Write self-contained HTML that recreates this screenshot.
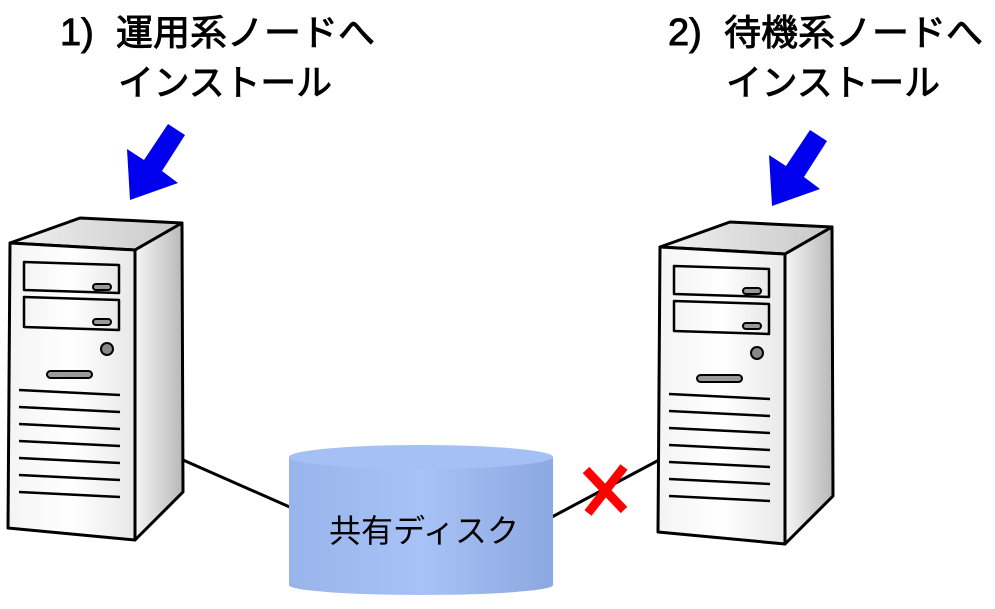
<!DOCTYPE html>
<html><head><meta charset="utf-8"><style>
body{margin:0;background:#fff;}
svg{display:block;}
text{font-family:"Liberation Sans","Noto Sans CJK JP",sans-serif;fill:#000;}
.t{stroke:#000;stroke-width:0.9;}
</style></head><body>
<svg width="995" height="609" viewBox="0 0 995 609" xmlns="http://www.w3.org/2000/svg">
<defs>
<linearGradient id="fr" x1="0" x2="1"><stop offset="0" stop-color="#f4f4f4"/><stop offset="0.5" stop-color="#ffffff"/><stop offset="1" stop-color="#e8e8e8"/></linearGradient>
<linearGradient id="sd" x1="0" x2="1"><stop offset="0" stop-color="#f6f6f6"/><stop offset="1" stop-color="#b8b8b8"/></linearGradient>
<linearGradient id="tp" x1="0" x2="1"><stop offset="0" stop-color="#f0f0f0"/><stop offset="1" stop-color="#c8c8c8"/></linearGradient>
<linearGradient id="cy" x1="0" x2="1"><stop offset="0" stop-color="#98b4ea"/><stop offset="0.5" stop-color="#a6c2f6"/><stop offset="1" stop-color="#8ca8e0"/></linearGradient>
<g id="srv" stroke="#000" stroke-width="3" stroke-linejoin="round">
<polygon points="10,243 80,218 182,223 135,250" fill="url(#tp)"/>
<polygon points="135,250 182,223 183,492 135,540" fill="url(#sd)"/>
<polygon points="10,243 135,250 135,540 8,528" fill="url(#fr)"/>
<polygon points="24,262 119,265 119,293 24,290" fill="url(#fr)" stroke-width="2.5"/>
<polygon points="24,297 119,300 119,330 24,327" fill="url(#fr)" stroke-width="2.5"/>
<rect x="93" y="284" width="18" height="6" rx="3" fill="#999" stroke-width="2"/>
<rect x="93" y="319" width="18" height="6" rx="3" fill="#999" stroke-width="2"/>
<circle cx="107" cy="349" r="6" fill="#888" stroke-width="2"/>
<rect x="47" y="371" width="45" height="7" rx="3.5" fill="#999" stroke-width="2"/>
<g stroke-width="2.5">
<line x1="19" y1="390" x2="120" y2="395"/>
<line x1="19" y1="407" x2="120" y2="412"/>
<line x1="19" y1="424" x2="120" y2="429"/>
<line x1="19" y1="441" x2="120" y2="446"/>
<line x1="19" y1="458" x2="120" y2="463"/>
<line x1="19" y1="475" x2="120" y2="480"/>
<line x1="19" y1="492" x2="120" y2="497"/>
</g>
</g>
<polygon id="arr" points="168,124 185,135 162,171 178,183 130,200 127,149 144,160" fill="#0000ee"/>
</defs>
<line x1="183" y1="460" x2="292" y2="508" stroke="#000" stroke-width="3"/>
<line x1="550" y1="518" x2="659" y2="460" stroke="#000" stroke-width="3"/>
<use href="#srv"/>
<use href="#srv" transform="translate(650,4)"/>
<use href="#arr"/>
<use href="#arr" transform="translate(642,6)"/>
<path d="M289,457 L289,585 A132,10 0 0 0 553,585 L553,457 Z" fill="url(#cy)"/>
<ellipse cx="421" cy="457" rx="132" ry="12" fill="#a4c0f4"/>
<text x="424" y="542" font-size="32" text-anchor="middle" textLength="190" lengthAdjust="spacingAndGlyphs">共有ディスク</text>
<g stroke="#ff0000" stroke-width="9">
<line x1="586" y1="470" x2="624" y2="510"/>
<line x1="624" y1="467" x2="588" y2="513"/>
</g>
<text class="t" x="60" y="45" font-size="38">1)</text>
<text class="t" x="116" y="45" font-size="36" textLength="259" lengthAdjust="spacingAndGlyphs">運用系ノードへ</text>
<text class="t" x="118" y="95" font-size="36" textLength="214" lengthAdjust="spacingAndGlyphs">インストール</text>
<text class="t" x="668" y="45" font-size="38">2)</text>
<text class="t" x="724" y="45" font-size="36" textLength="259" lengthAdjust="spacingAndGlyphs">待機系ノードへ</text>
<text class="t" x="726" y="95" font-size="36" textLength="214" lengthAdjust="spacingAndGlyphs">インストール</text>
</svg>
</body></html>
